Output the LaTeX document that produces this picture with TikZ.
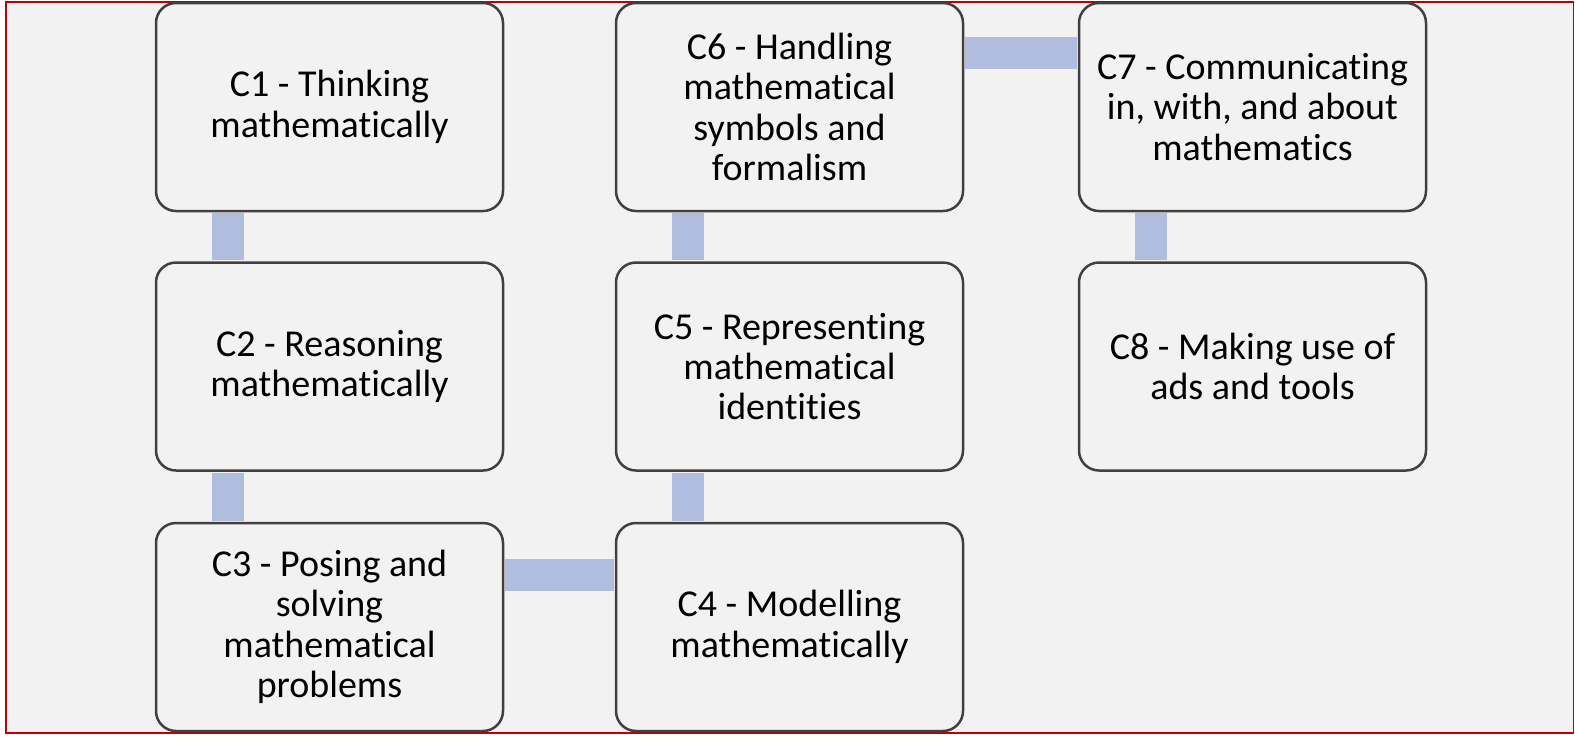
\documentclass[tikz,border=0pt]{standalone}
\usepackage{fontspec}
\setmainfont{Carlito}[Ligatures=NoCommon]
\usepackage{tikz}
\usepackage{xcolor}
\usetikzlibrary{shapes, positioning}

\definecolor{framered}{HTML}{C00000}
\definecolor{panelgray}{HTML}{F2F2F2}
\definecolor{boxline}{HTML}{404040}
\definecolor{linkblue}{HTML}{B0BDDF}

\tikzset{
    compbox/.style={draw=boxline, fill=panelgray, line width=1.25pt, rounded corners=10pt,
        minimum width=173.5pt, minimum height=104pt, align=center, inner sep=2pt,
        font=\fontsize{19pt}{20.2pt}\selectfont},
    link/.style={draw=linkblue, line width=16pt, shorten <=0.6pt, shorten >=0.6pt}
}

\begin{document}
\begin{tikzpicture}[x=0.5pt, y=-0.5pt]
        \useasboundingbox (0, 0) rectangle (1575, 736);
        \draw[framered, fill=panelgray, line width=0.75pt] (6, 2) rectangle (1573.5, 733);

        \node[compbox] (c1) at (329.5, 107) {C1 - Thinking\\mathematically};
        \node[compbox] (c2) at (329.5, 366.5) {C2 - Reasoning\\mathematically};
        \node[compbox] (c3) at (329.5, 627) {C3 - Posing and\\solving\\mathematical\\problems};
        \node[compbox] (c4) at (789.5, 627) {C4 - Modelling\\mathematically};
        \node[compbox] (c5) at (789.5, 366.5) {C5 - Representing\\mathematical\\identities};
        \node[compbox] (c6) at (789.5, 107) {C6 - Handling\\mathematical\\symbols and\\formalism};
        \node[compbox] (c7) at (1252.5, 107) {C7 - Communicating\\in, with, and about\\mathematics};
        \node[compbox] (c8) at (1252.5, 366.5) {C8 - Making use of\\ads and tools};

        \draw[link] ([xshift=-51pt]c1.south) -- ([xshift=-51pt]c2.north);
        \draw[link] ([xshift=-51pt]c2.south) -- ([xshift=-51pt]c3.north);
        \draw[link] ([yshift=26pt]c3.east) -- ([yshift=26pt]c4.west);
        \draw[link] ([xshift=-51pt]c4.north) -- ([xshift=-51pt]c5.south);
        \draw[link] ([xshift=-51pt]c5.north) -- ([xshift=-51pt]c6.south);
        \draw[link] ([yshift=27pt]c6.east) -- ([yshift=27pt]c7.west);
        \draw[link] ([xshift=-51pt]c7.south) -- ([xshift=-51pt]c8.north);
    \end{tikzpicture}
\end{document}
